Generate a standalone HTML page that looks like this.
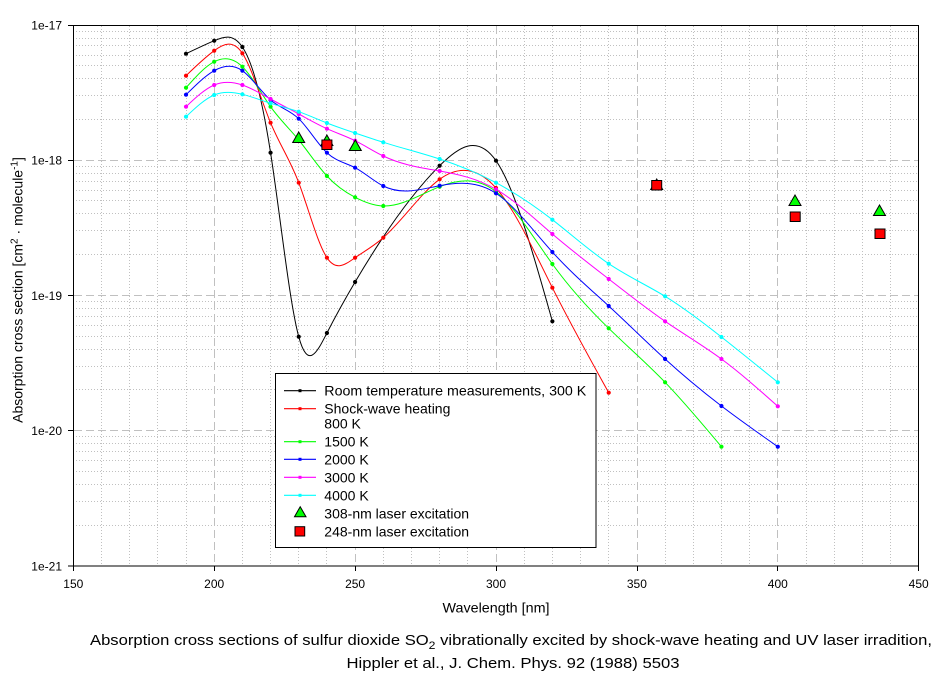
<!DOCTYPE html>
<html>
<head>
<meta charset="utf-8">
<style>
html,body{margin:0;padding:0;background:#fff;}
svg{display:block;font-family:"Liberation Sans",Arial,sans-serif;}
</style>
</head>
<body>
<svg id="chart" xmlns="http://www.w3.org/2000/svg" width="944" height="676" viewBox="0 0 944 676">
<rect x="0" y="0" width="944" height="676" fill="#fff"/>

<!-- minor vertical grid (dotted) -->
<path fill="none" stroke="#c0c0c0" stroke-width="1" stroke-dasharray="1 2"
d="M101.5 26V565 M129.5 26V565 M157.5 26V565 M186.5 26V565 M242.5 26V565 M270.5 26V565 M298.5 26V565 M326.5 26V565 M383.5 26V565 M411.5 26V565 M439.5 26V565 M467.5 26V565 M524.5 26V565 M552.5 26V565 M580.5 26V565 M608.5 26V565 M665.5 26V565 M693.5 26V565 M721.5 26V565 M749.5 26V565 M806.5 26V565 M834.5 26V565 M862.5 26V565 M890.5 26V565"/>
<!-- minor horizontal grid (dotted) -->
<path fill="none" stroke="#c0c0c0" stroke-width="1" stroke-dasharray="1 2"
d="M76 119.5H918 M76 95.5H918 M76 78.5H918 M76 65.5H918 M76 55.5H918 M76 45.5H918 M76 38.5H918 M76 31.5H918
M76 254.5H918 M76 230.5H918 M76 213.5H918 M76 200.5H918 M76 190.5H918 M76 181.5H918 M76 173.5H918 M76 166.5H918
M76 389.5H918 M76 366.5H918 M76 349.5H918 M76 336.5H918 M76 325.5H918 M76 316.5H918 M76 308.5H918 M76 301.5H918
M76 525.5H918 M76 501.5H918 M76 484.5H918 M76 471.5H918 M76 460.5H918 M76 451.5H918 M76 443.5H918 M76 436.5H918"/>
<!-- major grid (dashed) -->
<path fill="none" stroke="#c0c0c0" stroke-width="1" stroke-dasharray="8 4"
d="M214.5 26V565 M355.5 26V565 M496.5 26V565 M637.5 26V565 M777.5 26V565
M74 160.5H918 M74 295.5H918 M74 430.5H918"/>

<!-- series (fallback polylines, replaced by spline script) -->
<g id="series" fill="none" stroke-width="1">
<path id="s-black" stroke="#000000" d="M186 53.7L214.2 40.7L242.4 47L270.6 152.7L298.7 336.7L326.9 333L355.1 282L439.6 165.7L496 160.7L552.4 321.3"/>
<path id="s-red" stroke="#ff0000" d="M186 75.7L214.2 50.7L242.4 53.3L270.6 122.7L298.7 182.7L326.9 257.7L355.1 257.7L383.3 237.7L439.6 179.3L496 188L552.4 287.7L608.7 392.7"/>
<path id="s-green" stroke="#00ff00" d="M186 87.7L214.2 61.7L242.4 66.7L270.6 106.7L298.7 140L326.9 176L355.1 197.3L383.3 206L439.6 186.7L496 191.7L552.4 264L608.7 328.3L665.1 382.3L721.4 446.7"/>
<path id="s-blue" stroke="#0000ff" d="M186 94.7L214.2 70.7L242.4 70.7L270.6 100L298.7 118.7L326.9 152.7L355.1 167.7L383.3 186L439.6 185.7L496 193.3L552.4 252L608.7 306L665.1 359L721.4 406L777.8 446.7"/>
<path id="s-magenta" stroke="#ff00ff" d="M186 106.7L214.2 85L242.4 85L270.6 99L298.7 114L326.9 128.7L355.1 140.7L383.3 156L439.6 171L496 189.3L552.4 234L608.7 279L665.1 321.3L721.4 359L777.8 406.3"/>
<path id="s-cyan" stroke="#00ffff" d="M186 116.7L214.2 95L242.4 94.3L270.6 103.3L298.7 111.7L326.9 123L355.1 133L383.3 142.3L439.6 159L496 182.7L552.4 219.7L608.7 263.7L665.1 296.3L721.4 337L777.8 382.3"/>
</g>
<g id="dots"></g>

<!-- laser points -->
<g stroke="#000" stroke-width="1">
<polygon points="292.7,142.5 304.7,142.5 298.7,132" fill="#00ff00"/>
<polygon points="320.9,145.5 332.9,145.5 326.9,135" fill="#00ff00"/>
<polygon points="349.3,150.5 361.3,150.5 355.3,140" fill="#00ff00"/>
<polygon points="650.7,189.5 662.7,189.5 656.7,179" fill="#00ff00"/>
<polygon points="789,205.5 801,205.5 795,195" fill="#00ff00"/>
<polygon points="873.5,215.5 885.5,215.5 879.5,205" fill="#00ff00"/>
<rect x="321.9" y="140" width="10" height="9.5" fill="#ff0000"/>
<rect x="651.7" y="180.5" width="10" height="9.5" fill="#ff0000"/>
<rect x="790.2" y="212" width="10" height="9.5" fill="#ff0000"/>
<rect x="875" y="229" width="10" height="9.5" fill="#ff0000"/>
</g>

<!-- axes box -->
<rect x="73.5" y="25.5" width="845" height="540.5" fill="none" stroke="#000" stroke-width="1"/>
<path stroke="#000" stroke-width="1" fill="none"
d="M73.5 566V571 M214.5 566V571 M355.5 566V571 M496.5 566V571 M637.5 566V571 M777.5 566V571 M918.5 566V571
M68 25.5H73 M68 160.5H73 M68 295.5H73 M68 430.5H73 M68 566H73"/>

<!-- tick labels -->
<g font-size="12" fill="#000">
<g text-anchor="end">
<text x="62" y="29.5">1e-17</text>
<text x="62" y="164.7">1e-18</text>
<text x="62" y="300">1e-19</text>
<text x="62" y="435.2">1e-20</text>
<text x="62" y="570.5">1e-21</text>
</g>
<g text-anchor="middle">
<text x="73.3" y="588">150</text>
<text x="214.2" y="588">200</text>
<text x="355.1" y="588">250</text>
<text x="496" y="588">300</text>
<text x="636.9" y="588">350</text>
<text x="777.8" y="588">400</text>
<text x="918.7" y="588">450</text>
</g>
</g>

<!-- axis titles -->
<text x="496" y="612.5" font-size="14" text-anchor="middle" textLength="107" lengthAdjust="spacingAndGlyphs">Wavelength [nm]</text>
<text transform="translate(22.5,290) rotate(-90)" font-size="14" text-anchor="middle">Absorption cross section [cm<tspan font-size="10" dy="-5">2</tspan><tspan dy="5"> · molecule</tspan><tspan font-size="10" dy="-5">-1</tspan><tspan dy="5">]</tspan></text>

<!-- legend -->
<rect x="275.5" y="373.5" width="320.5" height="174" fill="#fff" stroke="#000" stroke-width="1"/>
<g stroke-width="1.2">
<line x1="284" y1="390.7" x2="316" y2="390.7" stroke="#000000"/>
<line x1="284" y1="408.7" x2="316" y2="408.7" stroke="#ff0000"/>
<line x1="284" y1="441.7" x2="316" y2="441.7" stroke="#00ff00"/>
<line x1="284" y1="459.3" x2="316" y2="459.3" stroke="#0000ff"/>
<line x1="284" y1="477.3" x2="316" y2="477.3" stroke="#ff00ff"/>
<line x1="284" y1="495.3" x2="316" y2="495.3" stroke="#00ffff"/>
</g>
<g>
<rect x="298.5" y="389.2" width="3" height="3" fill="#000000"/>
<rect x="298.5" y="407.2" width="3" height="3" fill="#ff0000"/>
<rect x="298.5" y="440.2" width="3" height="3" fill="#00ff00"/>
<rect x="298.5" y="457.8" width="3" height="3" fill="#0000ff"/>
<rect x="298.5" y="475.8" width="3" height="3" fill="#ff00ff"/>
<rect x="298.5" y="493.8" width="3" height="3" fill="#00ffff"/>
</g>
<polygon points="294.5,516.7 306,516.7 300.2,506.7" fill="#00ff00" stroke="#000" stroke-width="1"/>
<rect x="295" y="526.7" width="9.7" height="9.3" fill="#ff0000" stroke="#000" stroke-width="1"/>
<g font-size="14" fill="#000">
<text x="324.3" y="395.7" textLength="262" lengthAdjust="spacingAndGlyphs">Room temperature measurements, 300 K</text>
<text x="324.3" y="413.7">Shock-wave heating</text>
<text x="324.3" y="428.3">800 K</text>
<text x="324.3" y="446.7">1500 K</text>
<text x="324.3" y="464.3">2000 K</text>
<text x="324.3" y="482.3">3000 K</text>
<text x="324.3" y="500.3">4000 K</text>
<text x="324.3" y="518.3">308-nm laser excitation</text>
<text x="324.3" y="536.3">248-nm laser excitation</text>
</g>

<!-- caption -->
<text x="90" y="645" font-size="15" fill="#000" textLength="842" lengthAdjust="spacingAndGlyphs">Absorption cross sections of sulfur dioxide SO<tspan font-size="11" dy="4">2</tspan><tspan dy="-4"> vibrationally excited by shock-wave heating and UV laser irradition,</tspan></text>
<text x="346.5" y="668" font-size="15" fill="#000" textLength="333" lengthAdjust="spacingAndGlyphs">Hippler et al., J. Chem. Phys. 92 (1988) 5503</text>
</svg>

<script>
(function(){
  function X(nm){return 73.3+(nm-150)*2.818;}
  var nmA=[190,200,210,220,230,240,250,260,280,300,320,340,360,380,400];
  var data={
    "s-black":{c:"#000000",nm:[190,200,210,220,230,240,250,280,300,320],y:[53.7,40.7,47,152.7,336.7,333,282,165.7,160.7,321.3]},
    "s-red":{c:"#ff0000",nm:[190,200,210,220,230,240,250,260,280,300,320,340],y:[75.7,50.7,53.3,122.7,182.7,257.7,257.7,237.7,179.3,188,287.7,392.7]},
    "s-green":{c:"#00ff00",nm:[190,200,210,220,230,240,250,260,280,300,320,340,360,380],y:[87.7,61.7,66.7,106.7,140,176,197.3,206,186.7,191.7,264,328.3,382.3,446.7]},
    "s-blue":{c:"#0000ff",nm:nmA,y:[94.7,70.7,70.7,100,118.7,152.7,167.7,186,185.7,193.3,252,306,359,406,446.7]},
    "s-magenta":{c:"#ff00ff",nm:nmA,y:[106.7,85,85,99,114,128.7,140.7,156,171,189.3,234,279,321.3,359,406.3]},
    "s-cyan":{c:"#00ffff",nm:nmA,y:[116.7,95,94.3,103.3,111.7,123,133,142.3,159,182.7,219.7,263.7,296.3,337,382.3]}
  };
  function splinePath(xs,ys){
    var n=xs.length,h=[],i;
    for(i=0;i<n-1;i++)h.push(xs[i+1]-xs[i]);
    var M=new Array(n).fill(0);
    if(n>2){
      var a=[],b=[],c=[],d=[];
      for(i=1;i<n-1;i++){
        a.push(h[i-1]);b.push(2*(h[i-1]+h[i]));c.push(h[i]);
        d.push(6*((ys[i+1]-ys[i])/h[i]-(ys[i]-ys[i-1])/h[i-1]));
      }
      var m=b.length;
      for(i=1;i<m;i++){var w=a[i]/b[i-1];b[i]-=w*c[i-1];d[i]-=w*d[i-1];}
      var sol=new Array(m);
      sol[m-1]=d[m-1]/b[m-1];
      for(i=m-2;i>=0;i--)sol[i]=(d[i]-c[i]*sol[i+1])/b[i];
      for(i=0;i<m;i++)M[i+1]=sol[i];
    }
    var p="M"+xs[0].toFixed(2)+" "+ys[0].toFixed(2);
    for(i=0;i<n-1;i++){
      var hh=h[i],s=(ys[i+1]-ys[i])/hh;
      var d0=s-hh*(2*M[i]+M[i+1])/6;
      var d1=s+hh*(M[i]+2*M[i+1])/6;
      p+=" C"+(xs[i]+hh/3).toFixed(2)+" "+(ys[i]+hh*d0/3).toFixed(2)+" "+
         (xs[i+1]-hh/3).toFixed(2)+" "+(ys[i+1]-hh*d1/3).toFixed(2)+" "+
         xs[i+1].toFixed(2)+" "+ys[i+1].toFixed(2);
    }
    return p;
  }
  var NS="http://www.w3.org/2000/svg";
  var dots=document.getElementById("dots");
  for(var id in data){
    var s=data[id];
    var xs=s.nm.map(X);
    var el=document.getElementById(id);
    el.setAttribute("d",splinePath(xs,s.y));
    for(var k=0;k<xs.length;k++){
      var r=document.createElementNS(NS,"circle");
      r.setAttribute("cx",xs[k]);r.setAttribute("cy",s.y[k]);
      r.setAttribute("r","2.1");r.setAttribute("fill",s.c);
      dots.appendChild(r);
    }
  }
})();
</script>
</body>
</html>
